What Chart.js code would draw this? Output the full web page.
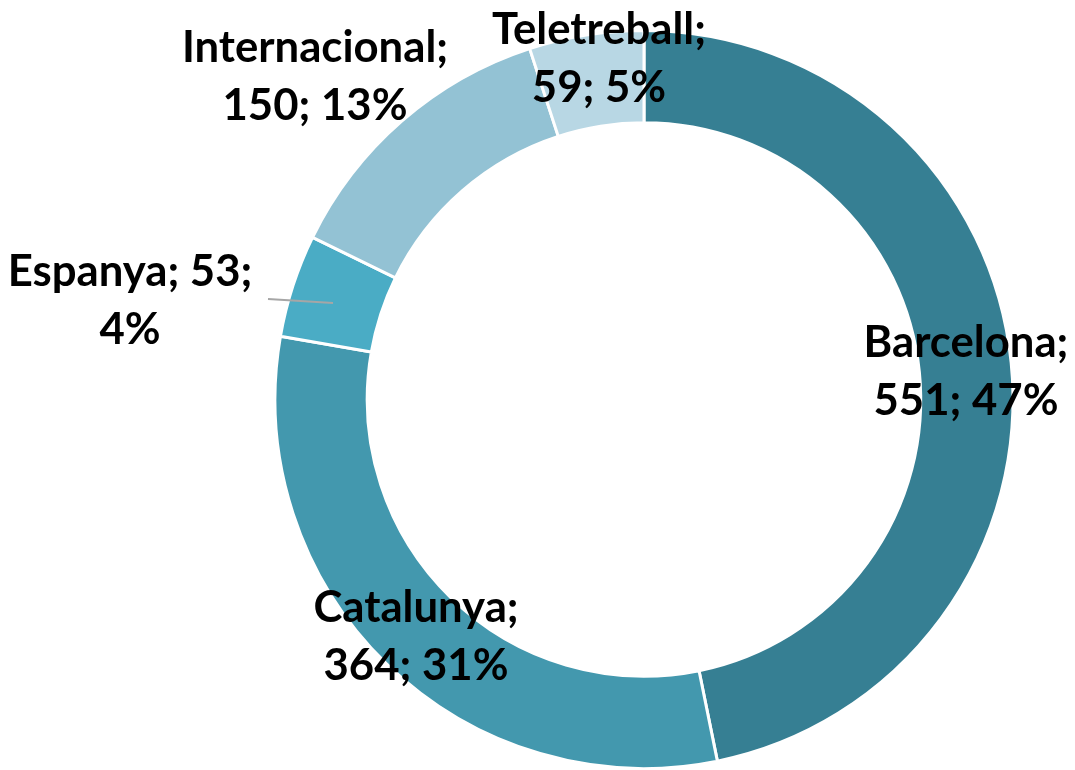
<!DOCTYPE html>
<html>
<head>
<meta charset="utf-8">
<title>Doughnut</title>
<script src="https://cdn.jsdelivr.net/npm/chart.js@4"></script>
<style>
  html, body { margin: 0; padding: 0; background: #fff; }
  #chart { display: block; }
</style>
</head>
<body>
<canvas id="chart" width="1075" height="770"></canvas>
<script>
const categories = ["Barcelona", "Catalunya", "Espanya", "Internacional", "Teletreball"];
const values = [551, 364, 53, 150, 59];
const percents = [47, 31, 4, 13, 5]; // as printed on the labels
const colors = ["#367f93", "#4398ae", "#4aacc5", "#93c2d4", "#b8d7e4"];

// where each label sits (centre of first line), and optional leader line
const labelSpots = {
  Barcelona: { x: 966, y: 343 },
  Catalunya: { x: 416, y: 608 },
  Espanya: { x: 130, y: 272, leader: [[268, 299], [333, 303]] },
  Internacional: { x: 315, y: 48 },
  Teletreball: { x: 599, y: 30 }
};
const lineGap = 58;
const labelFont = "Lato";

const labelPlugin = {
  id: "labels",
  afterDatasetsDraw(chart) {
    const ctx = chart.ctx;
    // fit font size so "Internacional;" is about 268px wide
    ctx.font = "bold 40px " + labelFont;
    const size = 40 * 266 / ctx.measureText("Internacional;").width;
    ctx.save();
    ctx.font = "bold " + size.toFixed(1) + "px " + labelFont;
    ctx.fillStyle = "#000";
    ctx.textAlign = "center";
    ctx.textBaseline = "middle";
    categories.forEach((cat, i) => {
      const s = labelSpots[cat];
      const p = percents[i] + "%";
      let lines;
      if (cat === "Espanya") {
        lines = [cat + "; " + values[i] + ";", p];
      } else {
        lines = [cat + ";", values[i] + "; " + p];
      }
      if (s.leader) {
        ctx.save();
        ctx.strokeStyle = "#a6a6a6";
        ctx.lineWidth = 2;
        ctx.beginPath();
        ctx.moveTo(s.leader[0][0], s.leader[0][1]);
        ctx.lineTo(s.leader[1][0], s.leader[1][1]);
        ctx.stroke();
        ctx.restore();
      }
      lines.forEach((t, k) => ctx.fillText(t, s.x, s.y + k * lineGap));
    });
    ctx.restore();
  }
};

new Chart(document.getElementById("chart"), {
  type: "doughnut",
  data: {
    labels: categories,
    datasets: [{
      data: values,
      backgroundColor: colors,
      borderColor: "#ffffff",
      borderWidth: 3
    }]
  },
  options: {
    responsive: false,
    animation: false,
    cutout: "75%",
    layout: { padding: { top: 29, bottom: 0, left: 273, right: 60 } },
    plugins: {
      legend: { display: false },
      tooltip: { enabled: false }
    }
  },
  plugins: [labelPlugin]
});
</script>
</body>
</html>
